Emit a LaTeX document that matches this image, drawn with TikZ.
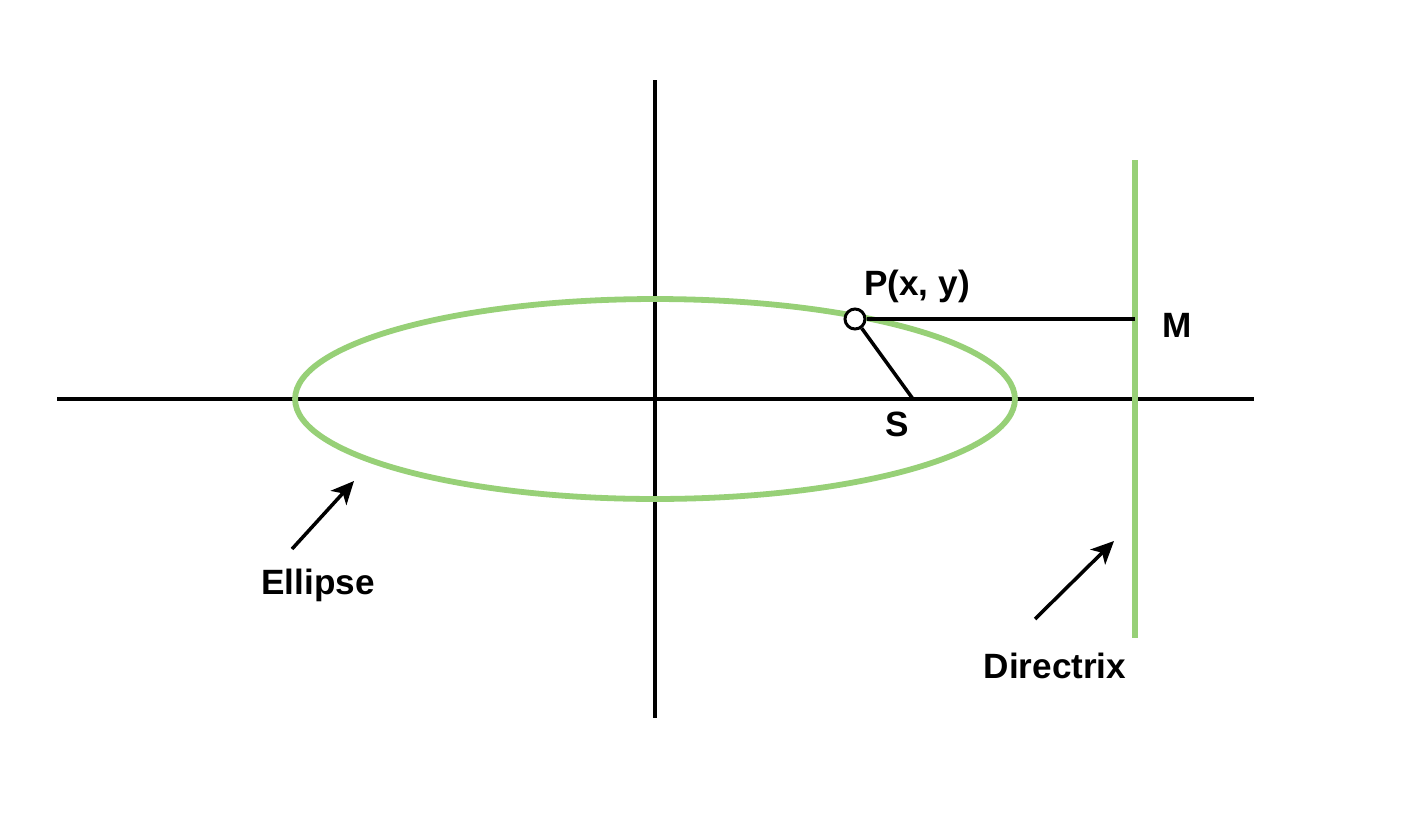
\documentclass[tikz,border=0pt]{standalone}
\usepackage{fontspec}
\setmainfont{Liberation Sans}
\usetikzlibrary{arrows.meta}
\definecolor{curvegreen}{HTML}{97D077}
\tikzset{
  axis/.style={line width=2pt, black},
  greenline/.style={line width=3.3pt, curvegreen},
  lbl/.style={font=\fontsize{20}{24}\selectfont\bfseries, inner sep=0pt},
  pointer/.style={line width=2pt, -{Stealth[length=13pt, width=12pt, inset=3.5pt]}},
}
\begin{document}
\begin{tikzpicture}[x=0.02cm, y=-0.02cm]
\useasboundingbox (0,0) rectangle (1408,818);
% axes
\coordinate (xl) at (57,399);
\coordinate (xr) at (1254,399);
\coordinate (yt) at (655,80);
\coordinate (yb) at (655,718);
\coordinate (o) at (655,399);
\draw[axis](xl) -- (xr);
\draw[axis](yt) -- (yb);
% ellipse and directrix
\draw[greenline] (o) ellipse [x radius=7.2cm, y radius=2cm];
\coordinate (dt) at (1135,160);
\coordinate (db) at (1135,638);
\draw[greenline](dt) -- (db);
% point P, focus S, foot M
\node[circle, draw, fill=white, line width=1.7pt, minimum size=0.4cm, inner sep=0pt] (p) at (855,319){};
\coordinate (m) at (1135,319);
\coordinate (s) at (913,399);
\draw[axis](p) -- (m);
\draw[axis](p) -- (s);
\node[lbl] (plbl) at (917,286){P(x, y)};
\node[lbl] (mlbl) at (1177,325){M};
\node[lbl] (slbl) at (897,424){S};
% pointers
\node[lbl] (elbl) at (318,585){Ellipse};
\node[lbl] (dlbl) at (1055,666){Directrix};
\coordinate (ea) at (292,549);
\coordinate (eb) at (354,481);
\coordinate (da) at (1035,619);
\coordinate (db2) at (1114,541);
\draw[pointer](ea) -- (eb);
\draw[pointer](da) -- (db2);
\end{tikzpicture}
\end{document}
